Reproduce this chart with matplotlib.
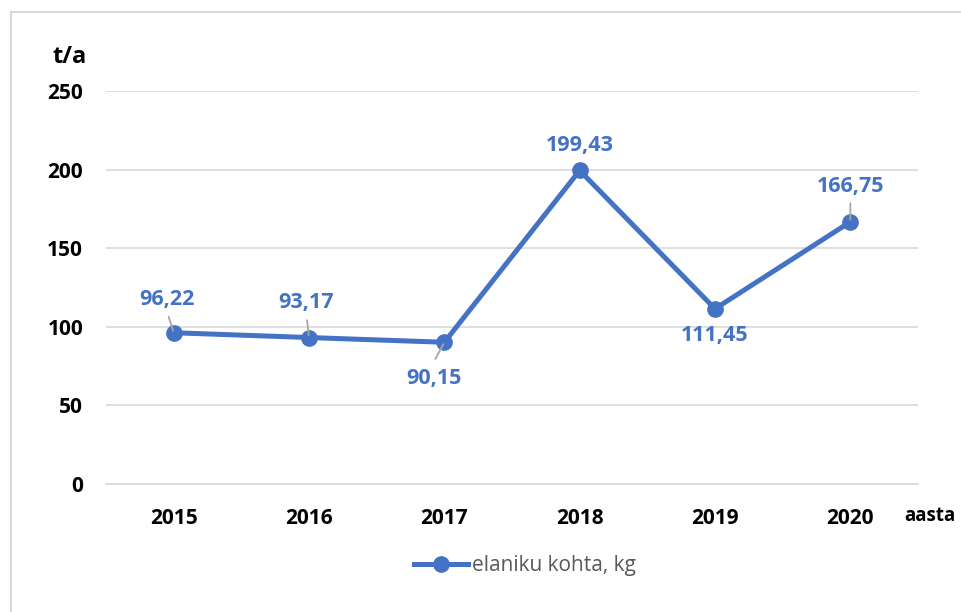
import matplotlib
matplotlib.use("Agg")
import matplotlib.pyplot as plt
from matplotlib.lines import Line2D

years = ["2015", "2016", "2017", "2018", "2019", "2020"]
values = [96.22, 93.17, 90.15, 199.43, 111.45, 166.75]
value_labels = ["96,22", "93,17", "90,15", "199,43", "111,45", "166,75"]
yticks = [0, 50, 100, 150, 200, 250]
series_name = "elaniku kohta, kg"

plt.rcParams['font.family'] = ['Open Sans', 'DejaVu Sans']
blue = "#4472C4"

fig = plt.figure(figsize=(9.61, 6.12), dpi=100)
W, H = 961, 612
ax = fig.add_axes([106 / W, (H - 484) / H, (918 - 106) / W, (484 - 91) / H])

x = list(range(len(years)))
ax.plot(x, values, color=blue, lw=3.6, marker="o", ms=11, zorder=3,
        solid_capstyle="round")

# label offsets (points) and leader-line starts (points), relative to marker
offsets = [(-4.7, 23.8), (-2.2, 25.2), (-7.2, -25.9), (0, 18), (0, -19.4), (0, 25.2)]
leaders = [(-3.6, 11.5), (-1.4, 12.5), (-6.5, -12), None, None, (0, 13.5)]
for xi, v, lab, off, ld in zip(x, values, value_labels, offsets, leaders):
    ax.annotate(lab, (xi, v), xytext=off, textcoords="offset points",
                ha="center", va="center", fontsize=15.5, fontweight="bold",
                color=blue, zorder=4)
    if ld is not None:
        ax.annotate("", (xi, v), xytext=ld, textcoords="offset points",
                    arrowprops=dict(arrowstyle="-", color="#A6A6A6", lw=1.3,
                                    shrinkA=0, shrinkB=1.5, zorder=5), zorder=5)

ax.set_xlim(-0.5, 5.5)
ax.set_ylim(0, 250)
ax.set_yticks(yticks)
ax.set_xticks(x)
ax.set_xticklabels(years)
ax.grid(axis="y", color="#D9D9D9", lw=1.2)
ax.set_axisbelow(True)
for s in ["top", "right", "left"]:
    ax.spines[s].set_visible(False)
ax.spines["bottom"].set_color("#D9D9D9")
ax.spines["bottom"].set_linewidth(1.2)
ax.tick_params(axis="both", length=0, labelsize=15)
ax.tick_params(axis="y", pad=16.5)
ax.tick_params(axis="x", pad=17)
for t in ax.get_xticklabels() + ax.get_yticklabels():
    t.set_fontweight("bold")
    t.set_color("black")

fig.text(70 / W, 1 - 57 / H, "t/a", ha="center", va="center",
         fontsize=17, fontweight="bold")
fig.text(930 / W, 1 - 516 / H, "aasta", ha="center", va="center",
         fontsize=13.5, fontweight="bold")

handle = Line2D([], [], color=blue, lw=3.6, marker="o", ms=11)
fig.legend([handle], [series_name], loc="center", bbox_to_anchor=(525 / W, 1 - 566 / H),
           frameon=False, fontsize=15, handlelength=2.6, handletextpad=0.2,
           labelcolor="#595959")

# outer border (top and left visible)
fig.add_artist(Line2D([11 / W, 11 / W], [0, 1 - 12 / H], transform=fig.transFigure,
                      color="#D9D9D9", lw=1.5))
fig.add_artist(Line2D([11 / W, 1], [1 - 12 / H, 1 - 12 / H], transform=fig.transFigure,
                      color="#D9D9D9", lw=1.5))

fig.savefig("out.png", dpi=100)
